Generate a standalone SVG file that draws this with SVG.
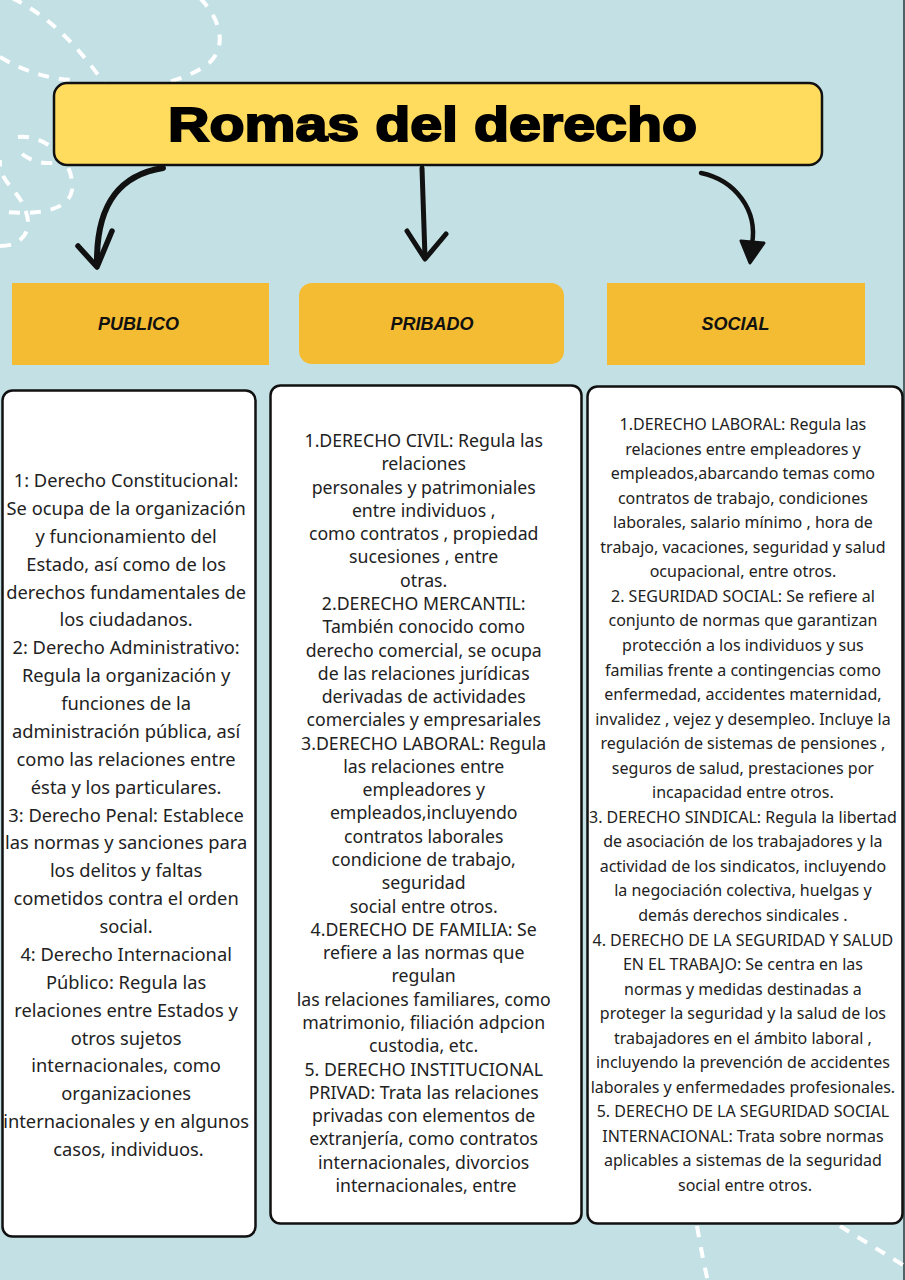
<svg xmlns="http://www.w3.org/2000/svg" width="905" height="1280" viewBox="0 0 905 1280">
<defs>
<style>
.deco{fill:none;stroke:#ffffff;stroke-width:4;stroke-dasharray:11 10;stroke-linecap:butt}
.hdr{fill:#F3BC32}
.hdrtxt{font-family:"Liberation Sans",Arial,sans-serif;font-weight:bold;font-style:italic;font-size:18px;fill:#111;text-anchor:middle}
.card{fill:#ffffff;stroke:#111;stroke-width:2.5}
.body{font-family:"Noto Sans","DejaVu Sans",sans-serif;fill:#222;text-anchor:middle}
.arr{fill:none;stroke:#111;stroke-linecap:round;stroke-linejoin:round}
</style>
</defs>
<rect width="905" height="1280" fill="#C3E0E5"/>
<line x1="904" y1="0" x2="904" y2="1280" stroke="#2a3a3c" stroke-width="1.5"/>

<g id="decoration">
<path class="deco" d="M12,-2 Q62,22 106,86"/>
<path class="deco" d="M0,57 Q35,78 72,80"/>
<path class="deco" d="M200,-2 C226,25 226,55 202,68 C185,78 170,82 160,84"/>
<path class="deco" d="M18,137 C45,134 75,160 72,190 C69,210 40,215 5,212"/>
<path class="deco" d="M22,154 C38,166 55,164 62,160"/>
<path class="deco" d="M0,246 C25,246 32,228 26,212 C20,190 -2,182 0,160"/>
<path class="deco" d="M697,1226 Q702,1255 708,1282"/>
<path class="deco" d="M840,1226 Q872,1246 908,1268"/>
</g>

<g id="title">
<rect x="54" y="83" width="768" height="82" rx="13" fill="#FFDB5E" stroke="#111" stroke-width="2.5"/>
<text x="432.5" y="141" font-family="'Liberation Sans',Arial,sans-serif" font-weight="900" font-size="48" fill="#000" text-anchor="middle" textLength="529" lengthAdjust="spacingAndGlyphs" stroke="#000" stroke-width="2">Romas del derecho</text>
</g>

<g id="connectors">
<path class="arr" stroke-width="6" d="M163,168 C125,174 96,198 97,264"/>
<path class="arr" stroke-width="5.5" d="M78,246 L97,267 L112,231"/>
<path class="arr" stroke-width="5" d="M422,168 L425,257"/>
<path class="arr" stroke-width="5" d="M407,231 L425,259 L446,234"/>
<path class="arr" stroke-width="4.5" d="M701,173 C735,180 758,210 752,244"/>
<path d="M741,241 L764,243 L750,263 Z" fill="#111" stroke="#111" stroke-width="3" stroke-linejoin="round"/>
</g>

<g id="publico-header">
<rect class="hdr" x="12" y="283" width="257" height="82"/>
<text class="hdrtxt" x="138.5" y="330">PUBLICO</text>
</g>
<g id="pribado-header">
<rect class="hdr" x="299" y="283" width="265" height="81" rx="13"/>
<text class="hdrtxt" x="432" y="330">PRIBADO</text>
</g>
<g id="social-header">
<rect class="hdr" x="607" y="283" width="258" height="82"/>
<text class="hdrtxt" x="735.5" y="330">SOCIAL</text>
</g>

<g id="publico-card">
<rect class="card" x="2.5" y="390.5" width="253" height="846" rx="10"/>
<text class="body" font-size="18.3">
<tspan x="128.5" y="487">1: Derecho Constitucional:</tspan>
<tspan x="128.5" dy="27.875">Se ocupa de la organización</tspan>
<tspan x="128.5" dy="27.875">y funcionamiento del</tspan>
<tspan x="128.5" dy="27.875">Estado, así como de los</tspan>
<tspan x="128.5" dy="27.875">derechos fundamentales de</tspan>
<tspan x="128.5" dy="27.875">los ciudadanos.</tspan>
<tspan x="128.5" dy="27.875">2: Derecho Administrativo:</tspan>
<tspan x="128.5" dy="27.875">Regula la organización y</tspan>
<tspan x="128.5" dy="27.875">funciones de la</tspan>
<tspan x="128.5" dy="27.875">administración pública, así</tspan>
<tspan x="128.5" dy="27.875">como las relaciones entre</tspan>
<tspan x="128.5" dy="27.875">ésta y los particulares.</tspan>
<tspan x="128.5" dy="27.875">3: Derecho Penal: Establece</tspan>
<tspan x="128.5" dy="27.875">las normas y sanciones para</tspan>
<tspan x="128.5" dy="27.875">los delitos y faltas</tspan>
<tspan x="128.5" dy="27.875">cometidos contra el orden</tspan>
<tspan x="128.5" dy="27.875">social.</tspan>
<tspan x="128.5" dy="27.875">4: Derecho Internacional</tspan>
<tspan x="128.5" dy="27.875">Público: Regula las</tspan>
<tspan x="128.5" dy="27.875">relaciones entre Estados y</tspan>
<tspan x="128.5" dy="27.875">otros sujetos</tspan>
<tspan x="128.5" dy="27.875">internacionales, como</tspan>
<tspan x="128.5" dy="27.875">organizaciones</tspan>
<tspan x="128.5" dy="27.875">internacionales y en algunos</tspan>
<tspan x="128.5" dy="27.875">casos, individuos.</tspan>
</text>
</g>

<g id="pribado-card">
<rect class="card" x="270.5" y="385.5" width="311" height="838" rx="10"/>
<text class="body" font-size="17.7">
<tspan x="426" y="447">1.DERECHO CIVIL: Regula las</tspan>
<tspan x="426" dy="23.28">relaciones</tspan>
<tspan x="426" dy="23.28">personales y patrimoniales</tspan>
<tspan x="426" dy="23.28">entre individuos ,</tspan>
<tspan x="426" dy="23.28">como contratos , propiedad</tspan>
<tspan x="426" dy="23.28">sucesiones , entre</tspan>
<tspan x="426" dy="23.28">otras.</tspan>
<tspan x="426" dy="23.28">2.DERECHO MERCANTIL:</tspan>
<tspan x="426" dy="23.28">También conocido como</tspan>
<tspan x="426" dy="23.28">derecho comercial, se ocupa</tspan>
<tspan x="426" dy="23.28">de las relaciones jurídicas</tspan>
<tspan x="426" dy="23.28">derivadas de actividades</tspan>
<tspan x="426" dy="23.28">comerciales y empresariales</tspan>
<tspan x="426" dy="23.28">3.DERECHO LABORAL: Regula</tspan>
<tspan x="426" dy="23.28">las relaciones entre</tspan>
<tspan x="426" dy="23.28">empleadores y</tspan>
<tspan x="426" dy="23.28">empleados,incluyendo</tspan>
<tspan x="426" dy="23.28">contratos laborales</tspan>
<tspan x="426" dy="23.28">condicione de trabajo,</tspan>
<tspan x="426" dy="23.28">seguridad</tspan>
<tspan x="426" dy="23.28">social entre otros.</tspan>
<tspan x="426" dy="23.28">4.DERECHO DE FAMILIA: Se</tspan>
<tspan x="426" dy="23.28">refiere a las normas que</tspan>
<tspan x="426" dy="23.28">regulan</tspan>
<tspan x="426" dy="23.28">las relaciones familiares, como</tspan>
<tspan x="426" dy="23.28">matrimonio, filiación adpcion</tspan>
<tspan x="426" dy="23.28">custodia, etc.</tspan>
<tspan x="426" dy="23.28">5. DERECHO INSTITUCIONAL</tspan>
<tspan x="426" dy="23.28">PRIVAD: Trata las relaciones</tspan>
<tspan x="426" dy="23.28">privadas con elementos de</tspan>
<tspan x="426" dy="23.28">extranjería, como contratos</tspan>
<tspan x="426" dy="23.28">internacionales, divorcios</tspan>
<tspan x="426" dy="23.28">internacionales, entre</tspan>
</text>
</g>

<g id="social-card">
<rect class="card" x="587.5" y="386.5" width="315" height="837" rx="10"/>
<text class="body" font-size="16">
<tspan x="745" y="430">1.DERECHO LABORAL: Regula las</tspan>
<tspan x="745" dy="24.55">relaciones entre empleadores y</tspan>
<tspan x="745" dy="24.55">empleados,abarcando temas como</tspan>
<tspan x="745" dy="24.55">contratos de trabajo, condiciones</tspan>
<tspan x="745" dy="24.55">laborales, salario mínimo , hora de</tspan>
<tspan x="745" dy="24.55">trabajo, vacaciones, seguridad y salud</tspan>
<tspan x="745" dy="24.55">ocupacional, entre otros.</tspan>
<tspan x="745" dy="24.55">2. SEGURIDAD SOCIAL: Se refiere al</tspan>
<tspan x="745" dy="24.55">conjunto de normas que garantizan</tspan>
<tspan x="745" dy="24.55">protección a los individuos y sus</tspan>
<tspan x="745" dy="24.55">familias frente a contingencias como</tspan>
<tspan x="745" dy="24.55">enfermedad, accidentes maternidad,</tspan>
<tspan x="745" dy="24.55">invalidez , vejez y desempleo. Incluye la</tspan>
<tspan x="745" dy="24.55">regulación de sistemas de pensiones ,</tspan>
<tspan x="745" dy="24.55">seguros de salud, prestaciones por</tspan>
<tspan x="745" dy="24.55">incapacidad entre otros.</tspan>
<tspan x="745" dy="24.55">3. DERECHO SINDICAL: Regula la libertad</tspan>
<tspan x="745" dy="24.55">de asociación de los trabajadores y la</tspan>
<tspan x="745" dy="24.55">actividad de los sindicatos, incluyendo</tspan>
<tspan x="745" dy="24.55">la negociación colectiva, huelgas y</tspan>
<tspan x="745" dy="24.55">demás derechos sindicales .</tspan>
<tspan x="745" dy="24.55">4. DERECHO DE LA SEGURIDAD Y SALUD</tspan>
<tspan x="745" dy="24.55">EN EL TRABAJO: Se centra en las</tspan>
<tspan x="745" dy="24.55">normas y medidas destinadas a</tspan>
<tspan x="745" dy="24.55">proteger la seguridad y la salud de los</tspan>
<tspan x="745" dy="24.55">trabajadores en el ámbito laboral ,</tspan>
<tspan x="745" dy="24.55">incluyendo la prevención de accidentes</tspan>
<tspan x="745" dy="24.55">laborales y enfermedades profesionales.</tspan>
<tspan x="745" dy="24.55">5. DERECHO DE LA SEGURIDAD SOCIAL</tspan>
<tspan x="745" dy="24.55">INTERNACIONAL: Trata sobre normas</tspan>
<tspan x="745" dy="24.55">aplicables a sistemas de la seguridad</tspan>
<tspan x="745" dy="24.55">social entre otros.</tspan>
</text>
</g>
</svg>
